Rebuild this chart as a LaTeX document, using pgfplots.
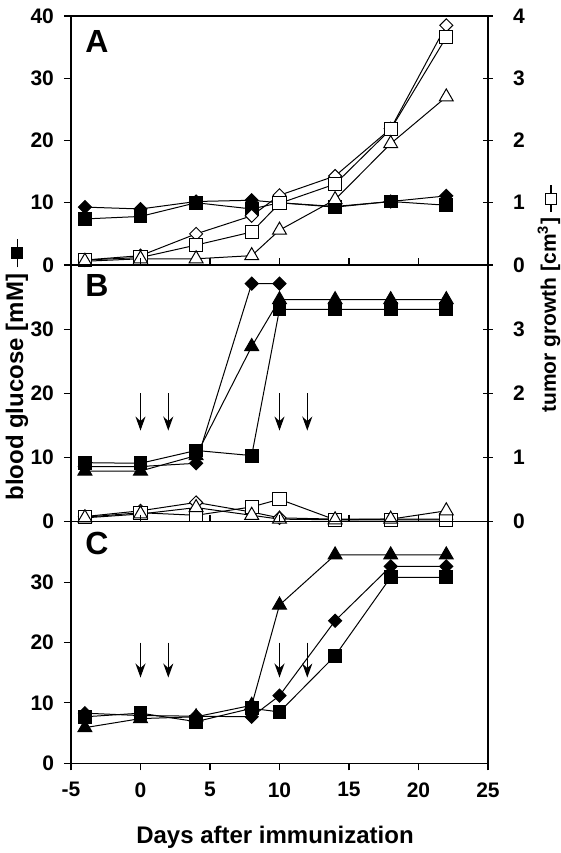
\documentclass[border=0pt]{standalone}
\usepackage{fontspec}
\setmainfont{Liberation Sans}
\usepackage{pgfplots}
\pgfplotsset{compat=1.18}
\usetikzlibrary{arrows.meta}

\newcommand{\fmark}{\raisebox{0pt}{\rlap{\rule[2.7pt]{14pt}{0.6pt}}\hspace{4pt}\rule{6pt}{6pt}\hspace{4pt}}}
\newcommand{\omark}{{\setlength{\fboxsep}{0pt}\setlength{\fboxrule}{0.6pt}\rule[2.1pt]{4pt}{0.6pt}\hspace{-0.3pt}\fbox{\rule{0pt}{4.8pt}\rule{4.8pt}{0pt}}\hspace{-0.3pt}\rule[2.1pt]{4pt}{0.6pt}}}

\tikzset{
  plabel/.style={anchor=base west, inner sep=0pt, font=\fontsize{16}{18}\selectfont\bfseries},
  arr/.style={line width=0.6pt, -{Stealth[length=7pt, width=5pt]}},
}
\pgfplotsset{
  panel/.style={scale only axis, width=208.5pt, xmin=-5, xmax=25, ymin=0, ymax=40,
    clip=false, anchor=south west,
    axis line style={line width=0.7pt},
    every tick/.style={black, line width=0.6pt},
    major tick length=3.5pt, tick align=outside,
    ytick pos=left,
    tick label style={font=\fontsize{10.5}{12}\selectfont\bfseries},
    yticklabel style={xshift=-1.5pt},
    /pgf/number format/assume math mode=true,
    every axis plot/.append style={black, line width=0.5pt},
  },
  rpanel/.style={scale only axis, width=208.5pt, xmin=-5, xmax=25, ymin=0, ymax=4,
    clip=false, anchor=south west,
    axis x line=none, axis y line*=right, axis line style={line width=0.7pt,-},
    every tick/.style={black, line width=0.6pt},
    major tick length=5pt, tick align=center,
    tick label style={font=\fontsize{10.5}{12}\selectfont\bfseries},
    yticklabel style={xshift=6.5pt},
    /pgf/number format/assume math mode=true,
    every axis plot/.append style={black, line width=0.5pt},
  },
  fd/.style={mark=square*, mark size=2.3pt, mark options={rotate=45, fill=black}},
  fs/.style={mark=square*, mark size=3.2pt, mark options={fill=black}},
  ft/.style={mark=triangle*, mark size=4pt, mark options={fill=black}},
  od/.style={mark=square*, mark size=2.3pt, mark options={rotate=45, fill=white}},
  os/.style={mark=square*, mark size=3.3pt, mark options={fill=white}},
  ot/.style={mark=triangle*, mark size=4pt, mark options={fill=white}},
}

\begin{document}
\begin{tikzpicture}
% ---------------- Panel A ----------------
\begin{axis}[panel, at={(35.5pt,294pt)}, height=124.5pt,
  xtick=\empty, ytick={0,10,20,30,40}]
  \addplot[fd] coordinates {(-4,9.3) (0,9.0) (4,10.2) (8,10.4) (10,10.0) (14,9.4) (18,10.2) (22,11.1)};
  \addplot[fs] coordinates {(-4,7.4) (0,7.8) (4,10.0) (8,9.0) (10,10.0) (14,9.3) (18,10.2) (22,9.6)};
  \node[plabel, xshift=7pt, yshift=-18.5pt] at (rel axis cs:0,1) {A};
\end{axis}
\begin{axis}[rpanel, at={(35.5pt,294pt)}, height=124.5pt, ytick={0,1,2,3,4}]
  \addplot[od] coordinates {(-4,0.08) (0,0.15) (4,0.50) (8,0.79) (10,1.12) (14,1.43) (18,2.19) (22,3.85)};
  \addplot[os] coordinates {(-4,0.08) (0,0.12) (4,0.32) (8,0.53) (10,0.99) (14,1.30) (18,2.18) (22,3.66)};
  \addplot[ot] coordinates {(-4,0.06) (0,0.10) (4,0.10) (8,0.15) (10,0.56) (14,1.05) (18,1.95) (22,2.70)};
\end{axis}
% ---------------- Panel B ----------------
\begin{axis}[panel, at={(35.5pt,165.65pt)}, height=128.35pt,
  xtick={-5,0,...,25}, xtick pos=right, xticklabels={}, ytick={0,10,20,30}]
  \addplot[fd] coordinates {(-4,8.6) (0,8.6) (4,9.1) (8,37.1) (10,37.1)};
  \addplot[ft] coordinates {(-4,7.9) (0,7.9) (4,10.3) (8,27.3) (10,34.6) (14,34.6) (18,34.6) (22,34.6)};
  \addplot[fs] coordinates {(-4,9.2) (0,9.1) (4,11.1) (8,10.3) (10,33.1) (14,33.1) (18,33.1) (22,33.1)};
  \draw[arr] (axis cs:0,20) -- (axis cs:0,14.2);
  \draw[arr] (axis cs:2,20) -- (axis cs:2,14.2);
  \draw[arr] (axis cs:10,20) -- (axis cs:10,14.2);
  \draw[arr] (axis cs:12,20) -- (axis cs:12,14.2);
  \node[plabel, xshift=7pt, yshift=-15.9pt] at (rel axis cs:0,1) {B};
\end{axis}
\begin{axis}[rpanel, at={(35.5pt,165.65pt)}, height=128.35pt, ytick={0,1,2,3}]
  \addplot[od] coordinates {(-4,0.08) (0,0.17) (4,0.30) (8,0.15) (10,0.06) (14,0.04) (18,0.04) (22,0.04)};
  \addplot[os] coordinates {(-4,0.07) (0,0.14) (4,0.10) (8,0.23) (10,0.35) (14,0.03) (18,0.03) (22,0.03)};
  \addplot[ot] coordinates {(-4,0.06) (0,0.12) (4,0.22) (8,0.10) (10,0.04) (14,0.03) (18,0.04) (22,0.17)};
\end{axis}
% ---------------- Panel C ----------------
\begin{axis}[panel, at={(35.5pt,44.85pt)}, height=120.8pt,
  xtick={-5,0,...,25}, xtick pos=both, xticklabel pos=left, ytick={0,10,20,30},
  xticklabel style={yshift=-2.5pt}]
  \addplot[ft] coordinates {(-4,5.9) (0,7.4) (4,7.7) (8,9.6) (10,26.2) (14,34.5) (18,34.5) (22,34.5)};
  \addplot[fd] coordinates {(-4,8.3) (0,7.9) (4,7.8) (8,7.7) (10,11.2) (14,23.6) (18,32.6) (22,32.6)};
  \addplot[fs] coordinates {(-4,7.7) (0,8.3) (4,6.9) (8,9.1) (10,8.5) (14,17.8) (18,30.8) (22,30.8)};
  \draw[arr] (axis cs:0,20) -- (axis cs:0,14.2);
  \draw[arr] (axis cs:2,20) -- (axis cs:2,14.2);
  \draw[arr] (axis cs:10,20) -- (axis cs:10,14.2);
  \draw[arr] (axis cs:12,20) -- (axis cs:12,14.2);
  \node[plabel, xshift=7pt, yshift=-16.6pt] at (rel axis cs:0,1) {C};
\end{axis}
% ---------------- Axis titles ----------------
\node[rotate=90, font=\fontsize{12}{14}\selectfont\bfseries, inner sep=0pt] at (8.5pt,241.5pt) {blood glucose [mM] \fmark};
\node[rotate=90, font=\fontsize{10.5}{12}\selectfont\bfseries, inner sep=0pt] at (274.5pt,277pt) {tumor growth [cm\textsuperscript{3}] \omark};
\node[anchor=base, inner sep=0pt, font=\fontsize{12}{14}\selectfont\bfseries] at (137.5pt,4.85pt) {Days after immunization};
\pgfresetboundingbox
\path[use as bounding box] (0,0) rectangle (280.5pt,426.5pt);
\end{tikzpicture}
\end{document}
